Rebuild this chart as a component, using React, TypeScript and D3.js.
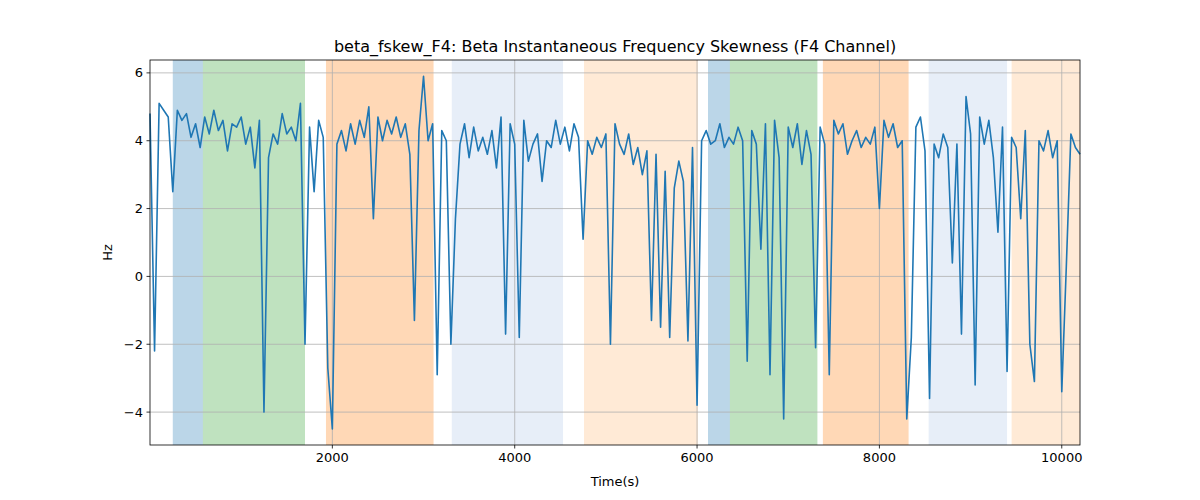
import { line, scaleLinear } from 'd3'

const step = 50
const values = [
  4.8, -2.2, 5.1, 4.9, 4.7, 2.5, 4.9, 4.6, 4.8, 4.1,
  4.5, 3.8, 4.7, 4.2, 4.9, 4.3, 4.6, 3.7, 4.5, 4.4,
  4.7, 3.9, 4.4, 3.2, 4.6, -4.0, 3.5, 4.2, 3.9, 4.8,
  4.2, 4.4, 4.0, 5.1, -2.0, 4.4, 2.5, 4.6, 4.1, -2.7,
  -4.5, 3.9, 4.3, 3.7, 4.5, 3.9, 4.6, 4.1, 5.0, 1.7,
  4.7, 4.0, 4.6, 4.2, 4.7, 4.1, 4.5, 3.6, -1.3, 4.3,
  5.9, 4.0, 4.5, -2.9, 4.3, 4.0, -2.0, 1.7, 3.9, 4.5,
  3.5, 4.4, 3.7, 4.1, 3.6, 4.3, 3.2, 4.7, -1.7, 4.5,
  3.9, -1.8, 4.6, 3.4, 3.9, 4.2, 2.8, 4.0, 3.8, 4.6,
  3.9, 4.4, 3.7, 4.5, 4.1, 1.1, 4.0, 3.6, 4.1, 3.8,
  4.2, -2.0, 4.5, 3.9, 3.6, 4.2, 3.3, 3.8, 3.0, 3.7,
  -1.3, 3.6, -1.5, 3.1, -1.8, 2.6, 3.4, 2.8, -1.9, 3.8,
  -3.8, 4.0, 4.3, 3.9, 4.0, 4.5, 3.8, 4.1, 3.9, 4.4,
  4.0, -2.5, 4.3, 3.9, 0.8, 4.5, -2.9, 4.6, 3.5, -4.2,
  4.4, 3.8, 4.5, 3.3, 4.3, 3.6, -2.1, 4.4, 3.9, -2.9,
  4.6, 4.2, 4.5, 3.6, 4.0, 4.3, 3.8, 4.1, 3.9, 4.4,
  2.0, 4.6, 4.1, 4.5, 3.8, 4.0, -4.2, -1.8, 4.4, 4.7,
  3.7, -3.6, 3.9, 3.5, 4.2, 3.8, 0.4, 3.9, -1.7, 5.3,
  4.2, -3.2, 4.7, 3.9, 4.6, 3.5, 1.3, 4.4, -2.8, 4.1,
  3.8, 1.7, 4.3, -2.0, -3.1, 4.0, 3.7, 4.3, 3.5, 4.0,
  -3.4, 0.3, 4.2, 3.8, 3.6,
]
const spans: [number, number, string, number][] = [
  [250, 580, '#1f77b4', 0.3],
  [580, 1700, '#2ca02c', 0.3],
  [1930, 3110, '#ff7f0e', 0.3],
  [3310, 4530, '#aec7e8', 0.3],
  [4760, 6010, '#ffbb78', 0.3],
  [6120, 6360, '#1f77b4', 0.3],
  [6360, 7320, '#2ca02c', 0.3],
  [7380, 8320, '#ff7f0e', 0.3],
  [8540, 9400, '#aec7e8', 0.3],
  [9450, 10230, '#ffbb78', 0.3],
]
const xTicks = [2000, 4000, 6000, 8000, 10000]
const yTicks = [-4, -2, 0, 2, 4, 6]

export default function App() {
  const left = 150, right = 1080, top = 60, bottom = 445
  const x = scaleLinear().domain([0, (values.length - 1) * step]).range([left, right])
  const y = scaleLinear().domain([-4.97, 6.38]).range([bottom, top])
  const path = line<number>().x((_, i) => x(i * step)).y((d) => y(d))(values)
  const font = 'DejaVu Sans, sans-serif'
  return (
    <svg width={1200} height={500} style={{ position: 'absolute', left: 0, top: 0 }} fontFamily={font}>
      <rect width={1200} height={500} fill="#fff" />
      {spans.map(([a, b, c, o], i) => (
        <rect key={i} x={x(a)} y={top} width={Math.min(x(b), right) - x(a)} height={bottom - top} fill={c} fillOpacity={o} />
      ))}
      {xTicks.map((t) => (
        <g key={t}>
          <line x1={x(t)} x2={x(t)} y1={top} y2={bottom} stroke="#b0b0b0" strokeWidth={0.8} />
          <line x1={x(t)} x2={x(t)} y1={bottom} y2={bottom + 3.5} stroke="#000" strokeWidth={0.8} />
          <text x={x(t)} y={bottom + 17} textAnchor="middle" fontSize={13}>{t}</text>
        </g>
      ))}
      {yTicks.map((t) => (
        <g key={t}>
          <line x1={left} x2={right} y1={y(t)} y2={y(t)} stroke="#b0b0b0" strokeWidth={0.8} />
          <line x1={left - 3.5} x2={left} y1={y(t)} y2={y(t)} stroke="#000" strokeWidth={0.8} />
          <text x={left - 7} y={y(t) + 4.5} textAnchor="end" fontSize={13}>{t < 0 ? `\u2212${-t}` : t}</text>
        </g>
      ))}
      <path d={path ?? ''} fill="none" stroke="#1f77b4" strokeWidth={1.6} strokeLinejoin="round" />
      <rect x={left} y={top} width={right - left} height={bottom - top} fill="none" stroke="#000" strokeWidth={0.8} />
      <text x={(left + right) / 2} y={52} textAnchor="middle" fontSize={16}>beta_fskew_F4: Beta Instantaneous Frequency Skewness (F4 Channel)</text>
      <text x={(left + right) / 2} y={486} textAnchor="middle" fontSize={13}>Time(s)</text>
      <text transform={`translate(112,${(top + bottom) / 2}) rotate(-90)`} textAnchor="middle" fontSize={13}>Hz</text>
    </svg>
  )
}
